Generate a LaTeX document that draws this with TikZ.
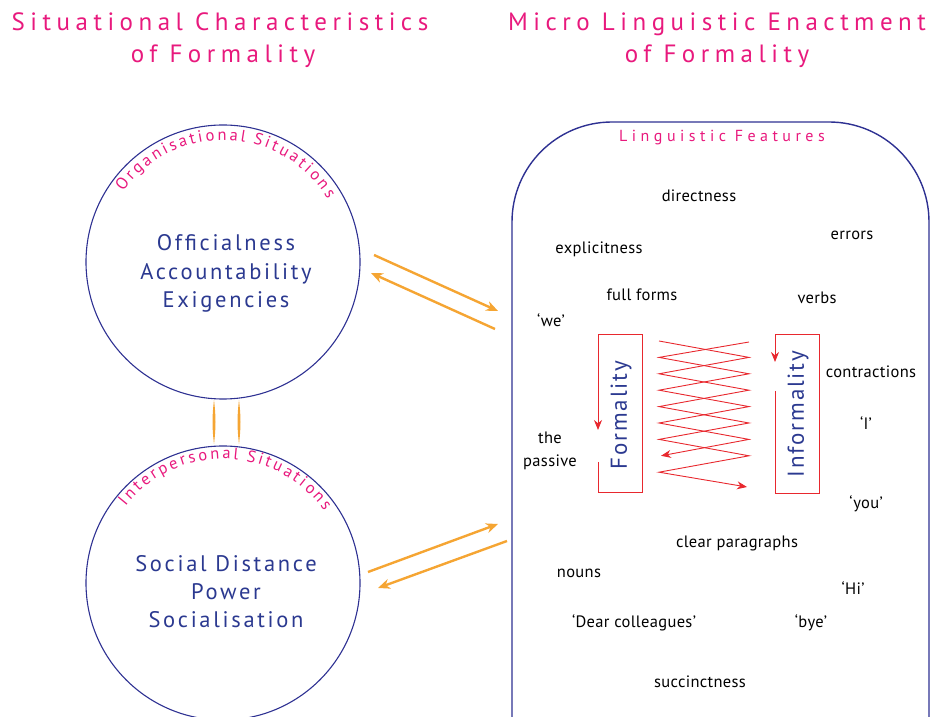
\documentclass[tikz,border=0pt]{standalone}
\usepackage{fontspec}
\setmainfont{PT Sans}
\newfontfamily\titlefont[LetterSpace=22]{PT Sans}
\newfontfamily\circfontfam[LetterSpace=12]{PT Sans}
\newfontfamily\featfontfam[LetterSpace=28]{PT Sans}
\newfontfamily\wordfontfam[LetterSpace=2]{PT Sans}
\newfontfamily\vertfontfam[LetterSpace=8]{PT Sans}
\newfontfamily\curvefontfam[WordSpace=0.62]{PT Sans}
\usetikzlibrary{arrows.meta,decorations.text}
\definecolor{pinkT}{HTML}{E8197D}
\definecolor{txtblue}{HTML}{2B3990}
\definecolor{lineblue}{HTML}{2E3192}
\definecolor{redZ}{HTML}{E8282E}
\definecolor{orangeA}{HTML}{F5A533}
\begin{document}
\begin{tikzpicture}[x=1pt,y=1pt,
  circ/.style={draw=lineblue, line width=1.1pt, circle, minimum size=274pt, inner sep=0pt},
  featbox/.style={draw=lineblue, line width=1.4pt, rectangle, rounded corners=100pt, inner sep=0pt},
  word/.style={anchor=base, inner sep=0pt, font=\fontsize{16.5}{19}\wordfontfam},
  bluetext/.style={anchor=base, inner sep=0pt, text=txtblue, font=\fontsize{22.5}{26}\circfontfam},
  title/.style={anchor=base, inner sep=0pt, text=pinkT, font=\fontsize{25}{29}\titlefont},
  feat/.style={anchor=base, inner sep=0pt, text=pinkT, font=\fontsize{16}{19}\featfontfam},
  vert/.style={rotate=90, inner sep=0pt, text=txtblue, font=\fontsize{23}{27}\vertfontfam},
  orangearrow/.style={draw=orangeA, line width=2.4pt, -{Stealth[length=12pt,width=10pt]}},
  redline/.style={draw=redZ, line width=0.9pt},
  redarrow/.style={redline, -{Stealth[length=10pt,width=8pt]}},
  spindle/.style={fill=orangeA, draw=none}
]
\useasboundingbox (0,0) rectangle (937,717);
\clip (0,0) rectangle (937,717);

% titles
\node[title] (t1a) at (220,686) {Situational Characteristics};
\node[title] (t1b) at (223,654) {of Formality};
\node[title] (t2a) at (717,686) {Micro Linguistic Enactment};
\node[title] (t2b) at (717,654) {of Formality};

% circles
\node[circ] (org) at (223,455) {};
\node[circ] (inter) at (223,134) {};

\path[decorate, decoration={text along path, text align=center,
  text={|\fontsize{16.5}{19}\curvefontfam\color{pinkT}|O r g a n i s a t i o n a l ~ S i t u a t i o n s}}]
  (223,455) ++(178:122) arc[start angle=178, end angle=-2, radius=122];
\path[decorate, decoration={text along path, text align=center,
  text={|\fontsize{16.5}{19}\curvefontfam\color{pinkT}|I n t e r p e r s o n a l ~ S i t u a t i o n s}}]
  (223,134) ++(178:124) arc[start angle=178, end angle=-1, radius=124];

\node[bluetext] (off) at (226,466) {Officialness};
\node[bluetext] (acc) at (226,437) {Accountability};
\node[bluetext] (exi) at (226,409) {Exigencies};

\node[bluetext] (soc) at (226,145) {Social Distance};
\node[bluetext] (pow) at (226,117) {Power};
\node[bluetext] (scl) at (226,89) {Socialisation};

% orange spindles between circles
\path[spindle] (214,317) .. controls (216,300) and (216,290) .. (214,273)
   .. controls (212,290) and (212,300) .. (214,317);
\path[spindle] (239,317) .. controls (241,300) and (241,290) .. (239,273)
   .. controls (237,290) and (237,300) .. (239,317);

% feature box
\node[featbox, minimum width=417pt, minimum height=745pt] (box) at (720.5,222.5) {};
\node[feat] (lf) at (722,575) {Linguistic Features};

% orange arrows
\coordinate (a1s) at (374,462); \coordinate (a1e) at (498,406);
\coordinate (a2s) at (495,388); \coordinate (a2e) at (371,444);
\coordinate (a3s) at (368,145); \coordinate (a3e) at (498,193);
\coordinate (a4s) at (507,176); \coordinate (a4e) at (378,129);
\draw[orangearrow] (a1s) -- (a1e);
\draw[orangearrow] (a2s) -- (a2e);
\draw[orangearrow] (a3s) -- (a3e);
\draw[orangearrow] (a4s) -- (a4e);

% words
\node[word] (w1) at (699,515) {directness};
\node[word] (w2) at (852,477) {errors};
\node[word] (w3) at (599,463) {explicitness};
\node[word] (w4) at (642,416) {full forms};
\node[word] (w5) at (817,413) {verbs};
\node[word] (w6) at (551,390) {‘we’};
\node[word] (w7) at (871,339) {contractions};
\node[word] (w8) at (866,287) {‘I’};
\node[word] (w9) at (550,273) {the};
\node[word] (w10) at (550,250) {passive};
\node[word] (w11) at (866,208) {‘you’};
\node[word] (w12) at (737,169) {clear paragraphs};
\node[word] (w13) at (579,139) {nouns};
\node[word] (w14) at (853,122) {‘Hi’};
\node[word] (w15) at (634,89) {‘Dear colleagues’};
\node[word] (w16) at (811,89) {‘bye’};
\node[word] (w17) at (700,29) {succinctness};

% formality boxes
\draw[redarrow] (598,255) -- (598,225) -- (642,225) -- (642,383) -- (598,383) -- (598,287);
\node[vert] (form) at (621,302) {Formality};
\draw[redarrow] (775,326) -- (775,224) -- (819,224) -- (819,383) -- (775,383) -- (775,355);
\node[vert] (inform) at (798,303) {Informality};

% zigzags
\draw[redarrow] (659,376) -- (749,359.6) -- (659,343.2) -- (749,326.8) -- (659,310.4)
  -- (749,294) -- (659,277.6) -- (749,261.2) -- (659,244.8) -- (747,230);
\draw[redarrow] (749,375) -- (659,359.6) -- (749,343.2) -- (659,326.8) -- (749,310.4)
  -- (659,294) -- (749,277.6) -- (661,261.2);
\end{tikzpicture}
\end{document}
